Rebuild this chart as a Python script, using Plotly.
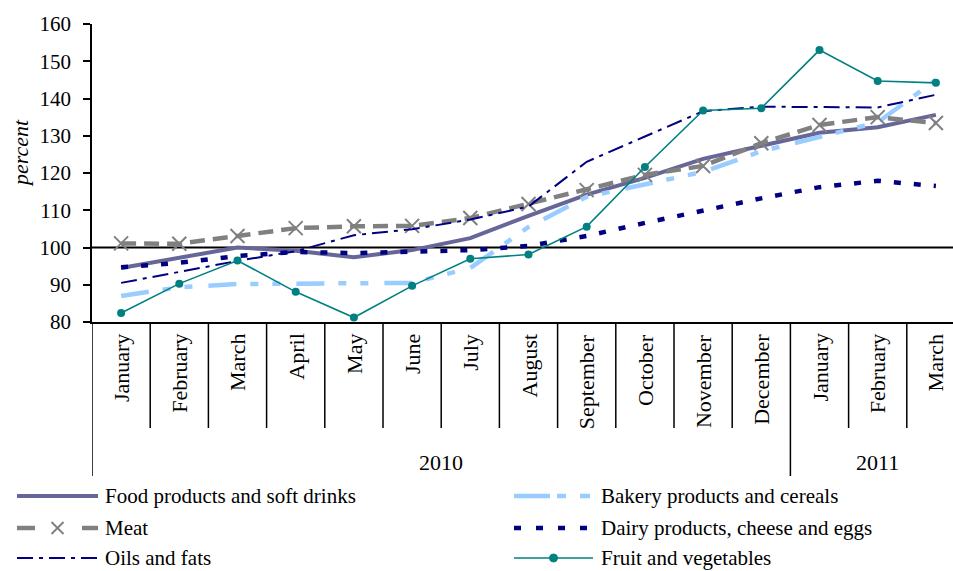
import plotly.graph_objects as go

# Monthly price indices, per cent (January 2010 – March 2011)
months = ["January", "February", "March", "April", "May", "June", "July",
          "August", "September", "October", "November", "December",
          "January", "February", "March"]
years = ["2010", "2011"]
year_spans = [(0, 11), (12, 14)]

food = [94.5, 97.2, 100.0, 99.1, 97.4, 99.3, 102.5, 108.5, 114.2, 118.7, 123.8, 127.3, 130.8, 132.3, 135.6]
bakery = [87.0, 89.3, 90.2, 90.2, 90.5, 90.5, 94.5, 105.5, 113.6, 116.8, 120.3, 125.8, 129.6, 133.6, 145.0]
meat = [101.1, 101.0, 103.1, 105.2, 105.7, 105.8, 107.9, 111.7, 115.4, 119.5, 121.9, 128.0, 132.9, 135.0, 133.4]
dairy = [94.7, 95.9, 97.7, 98.8, 98.5, 98.8, 99.3, 100.4, 103.1, 106.6, 110.0, 113.2, 116.2, 117.9, 116.5]
oils = [90.5, 93.4, 96.4, 99.0, 103.3, 104.9, 107.5, 111.0, 123.0, 129.8, 136.6, 137.8, 137.6, 137.6, 141.0]
fruit = [82.4, 90.3, 96.5, 88.1, 81.2, 89.7, 97.0, 98.1, 105.6, 121.6, 136.8, 137.4, 153.0, 144.7, 144.2]

names = ["Food products and soft drinks", "Bakery products and cereals", "Meat",
         "Dairy products, cheese and eggs", "Oils and fats", "Fruit and vegetables"]

FONT = "Liberation Serif"
W, H = 953, 571
ML, MR, MT, MB = 92, 0, 24, 249
PW, PH = W - ML - MR, H - MT - MB
CAT_W = 58.2
x_hi = -0.5 + PW / CAT_W


def px_x(px):
    return (px - ML) / PW


def px_y(py):
    return (H - MB - py) / PH


x = list(range(len(months)))

C_FOOD = "#666699"
C_BAKERY = "#99ccff"
C_MEAT = "#808080"
C_NAVY = "#000080"
C_FRUIT = "#008080"

fig = go.Figure()
fig.add_trace(go.Scatter(x=x, y=food, mode="lines", name=names[0],
                         line=dict(color=C_FOOD, width=4)))
fig.add_trace(go.Scatter(x=x, y=bakery, mode="lines", name=names[1],
                         line=dict(color=C_BAKERY, width=4.5,
                                   dash="28px,14px,8px,14px,8px,16px")))
fig.add_trace(go.Scatter(x=x, y=meat, mode="lines+markers", name=names[2],
                         line=dict(color=C_MEAT, width=4.5, dash="15px,8px"),
                         marker=dict(symbol="x-thin", size=14, color=C_MEAT,
                                     line=dict(color=C_MEAT, width=2))))
fig.add_trace(go.Scatter(x=x, y=dairy, mode="lines", name=names[3],
                         line=dict(color=C_NAVY, width=4.5, dash="7px,13px")))
fig.add_trace(go.Scatter(x=x, y=oils, mode="lines", name=names[4],
                         line=dict(color=C_NAVY, width=2, dash="16px,6px,4px,6px")))
fig.add_trace(go.Scatter(x=x, y=fruit, mode="lines+markers", name=names[5],
                         line=dict(color=C_FRUIT, width=1.6),
                         marker=dict(symbol="circle", size=8, color=C_FRUIT)))

shapes = []
annotations = []

# reference line at 100 %
shapes.append(dict(type="line", xref="paper", yref="y", x0=0, x1=1, y0=100, y1=100,
                   line=dict(color="black", width=1.8), layer="below"))

# category separators below the axis; year boundaries run deeper
y_month = px_y(428)
y_year = px_y(476)
for k in range(len(months)):
    xb = k - 0.5
    deep = k == 0 or any(k == s for s, _ in year_spans)
    shapes.append(dict(type="line", xref="x", yref="paper", x0=xb, x1=xb,
                       y0=0, y1=y_year if deep else y_month,
                       line=dict(color="black", width=1.5)))

for k, m in enumerate(months):
    annotations.append(dict(text=m, x=k, y=px_y(332), xref="x", yref="paper",
                            textangle=-90, xanchor="center", yanchor="top",
                            showarrow=False, font=dict(family=FONT, size=22, color="black")))

for yr, (s, e) in zip(years, year_spans):
    annotations.append(dict(text=yr, x=(s + e) / 2, y=px_y(462), xref="x", yref="paper",
                            xanchor="center", yanchor="middle", showarrow=False,
                            font=dict(family=FONT, size=22, color="black")))

annotations.append(dict(text="percent", x=px_x(20), y=px_y(153), xref="paper", yref="paper",
                        textangle=-90, xanchor="center", yanchor="middle", showarrow=False,
                        font=dict(family=FONT, size=22, color="black", style="italic")))

# legend drawn in two columns below the chart
rows = [496, 528, 558]
col_sym = [(17, 98), (514, 593)]
col_txt = [103, 599]
layout_slots = [(0, 0), (1, 0), (0, 1), (1, 1), (0, 2), (1, 2)]


def seg(x0, x1, yy, color, width, dash="solid"):
    shapes.append(dict(type="line", xref="paper", yref="paper",
                       x0=px_x(x0), x1=px_x(x1), y0=px_y(yy), y1=px_y(yy),
                       line=dict(color=color, width=width, dash=dash)))


for i, (c, r) in enumerate(layout_slots):
    a, b = col_sym[c]
    yy = rows[r]
    if i == 0:
        seg(a, b, yy, C_FOOD, 4)
    elif i == 1:
        seg(a, b, yy, C_BAKERY, 4.5, "36px,7px,9px,14px,10px,60px")
    elif i == 2:
        seg(a, a + 18, yy, C_MEAT, 4.5)
        seg(b - 16, b, yy, C_MEAT, 4.5)
        cx = (a + b) / 2
        for d in (-1, 1):
            shapes.append(dict(type="line", xref="paper", yref="paper",
                               x0=px_x(cx - 6), x1=px_x(cx + 6),
                               y0=px_y(yy - 6 * d), y1=px_y(yy + 6 * d),
                               line=dict(color=C_MEAT, width=2)))
    elif i == 3:
        seg(a, b, yy, C_NAVY, 4.5, "7px,15px")
    elif i == 4:
        seg(a, b, yy, C_NAVY, 2.2, "16px,6px,4px,6px")
    else:
        seg(a, b, yy, C_FRUIT, 1.6)
        cx = (a + b) / 2
        shapes.append(dict(type="circle", xref="paper", yref="paper",
                           x0=px_x(cx - 4), x1=px_x(cx + 4),
                           y0=px_y(yy - 4), y1=px_y(yy + 4),
                           fillcolor=C_FRUIT, line=dict(color=C_FRUIT, width=1)))
    annotations.append(dict(text=names[i], x=px_x(col_txt[c]), y=px_y(yy),
                            xref="paper", yref="paper", xanchor="left", yanchor="middle",
                            showarrow=False, font=dict(family=FONT, size=21, color="black")))

fig.update_layout(
    width=W, height=H,
    margin=dict(l=ML, r=MR, t=MT, b=MB, pad=0),
    paper_bgcolor="white", plot_bgcolor="white",
    showlegend=False,
    shapes=shapes, annotations=annotations,
    xaxis=dict(range=[-0.5, x_hi], showticklabels=False, ticks="", showgrid=False,
               zeroline=False, showline=True, linecolor="black", linewidth=1.8),
    yaxis=dict(range=[80, 160], dtick=10, tick0=80, ticks="outside", ticklen=7,
               tickwidth=1.5, tickcolor="black", showgrid=False, zeroline=False,
               showline=True, linecolor="black", linewidth=1.5, ticklabelstandoff=8,
               tickfont=dict(family=FONT, size=21, color="black")),
)

fig.write_html("out.html")
